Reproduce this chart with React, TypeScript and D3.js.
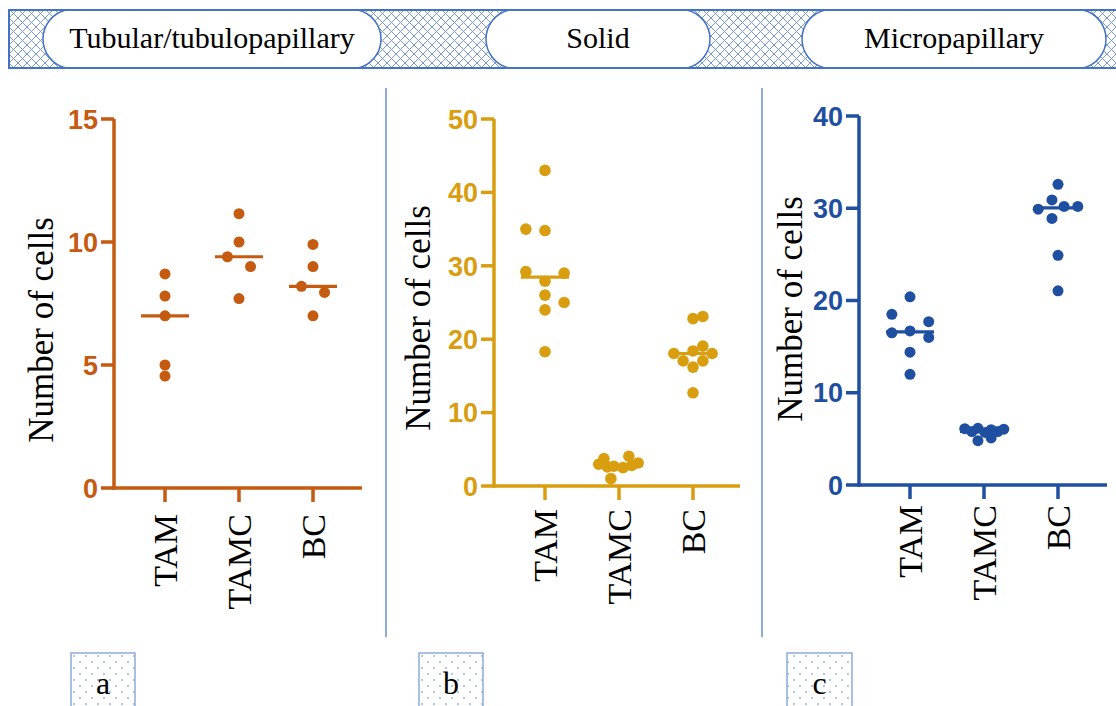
import React from "react";
import * as d3 from "d3";

// ---------- data ----------
const categories = ["TAM", "TAMC", "BC"];
const panelTitles = ["Tubular/tubulopapillary", "Solid", "Micropapillary"];
const panelLetters = ["a", "b", "c"];
const yAxisTitle = "Number of cells";

const tubularTicks = [0, 5, 10, 15];
const solidTicks = [0, 10, 20, 30, 40, 50];
const microTicks = [0, 10, 20, 30, 40];

// values (Number of cells) per group
const tubularTAM = [8.7, 7.8, 7.0, 5.0, 4.55];
const tubularTAMC = [11.15, 10.0, 9.4, 9.0, 7.7];
const tubularBC = [9.9, 9.0, 8.2, 7.95, 7.0];

const solidTAM = [43, 35.0, 34.8, 29.2, 29.0, 27.9, 26.0, 25.0, 24.0, 18.3];
const solidTAMC = [3.74, 4.05, 2.96, 2.7, 2.5, 2.8, 3.14, 1.0, 2.6];
const solidBC = [22.8, 23.1, 18.05, 18.4, 19.06, 18.05, 17.05, 16.2, 17.05, 12.7];

const microTAM = [20.4, 18.5, 17.7, 16.5, 16.7, 16.0, 14.4, 12.0];
const microTAMC = [6.1, 6.15, 6.0, 6.05, 5.8, 5.7, 5.8, 4.8, 5.1];
const microBC = [32.6, 30.9, 29.9, 30.2, 30.2, 28.9, 24.9, 21.05];

// scatter-column spread of each dot (in dot diameters)
const tubularTAMSpread = [0, 0, 0, 0, 0];
const tubularTAMCSpread = [0, 0, -1.05, 1.05, 0];
const tubularBCSpread = [0, 0, -1.05, 1.05, 0];
const solidTAMSpread = [0, -1.65, 0, -1.65, 1.65, 0, 0, 1.65, 0, 0];
const solidTAMCSpread = [-1.3, 0.85, -1.75, -0.45, 0.35, 1.1, 1.65, -0.7, -1.0];
const solidBCSpread = [0, 0.85, -1.65, 0, 0.85, 1.65, -0.85, 0, 0.85, 0];
const microTAMSpread = [0, -1.65, 1.7, -1.65, 0, 1.7, 0, 0];
const microTAMCSpread = [-1.75, -0.55, 0.65, 1.8, -1.1, 0.1, 1.25, -0.55, 0.65];
const microBCSpread = [0, -0.55, -1.8, 0.55, 1.8, -0.55, 0, 0];

// ---------- layout ----------
const W = 1116;
const H = 706;
const serif = "'Liberation Serif', 'Times New Roman', Times, serif";
const sans = "'Liberation Sans', Arial, Helvetica, sans-serif";
const bannerBlue = "#4472C4";
const lightBlue = "#8FAADC";

const panels = [
  {
    title: panelTitles[0], letter: panelLetters[0], ticks: tubularTicks, max: 15,
    groups: [tubularTAM, tubularTAMC, tubularBC],
    spreads: [tubularTAMSpread, tubularTAMCSpread, tubularBCSpread],
    color: "#C55A11", ax: 114, axEnd: 362, y0: 488, y1: 119, r: 5.5,
    labelX: 53, labelY: 330, catTop: 514,
    pill: [43, 381], box: [71, 135],
  },
  {
    title: panelTitles[1], letter: panelLetters[1], ticks: solidTicks, max: 50,
    groups: [solidTAM, solidTAMC, solidBC],
    spreads: [solidTAMSpread, solidTAMCSpread, solidBCSpread],
    color: "#D89E10", ax: 494, axEnd: 740, y0: 486, y1: 119, r: 5.8,
    labelX: 430, labelY: 318, catTop: 509,
    pill: [486, 710], box: [419, 483],
  },
  {
    title: panelTitles[2], letter: panelLetters[2], ticks: microTicks, max: 40,
    groups: [microTAM, microTAMC, microBC],
    spreads: [microTAMSpread, microTAMCSpread, microBCSpread],
    color: "#1F4FA0", ax: 859, axEnd: 1107, y0: 485, y1: 116, r: 5.5,
    labelX: 802, labelY: 309, catTop: 505,
    pill: [802, 1106], box: [787, 852],
  },
];

const bannerTop = 10;
const bannerBottom = 68;

function pillPath(xL: number, xR: number, top: number, bottom: number) {
  const h = bottom - top;
  const s = 23;
  const rad = (s * s + (h / 2) * (h / 2)) / (2 * s);
  return `M${xL + s},${top} L${xR - s},${top} A${rad},${rad} 0 0 1 ${xR - s},${bottom} L${xL + s},${bottom} A${rad},${rad} 0 0 1 ${xL + s},${top} Z`;
}

function Panel({ p }: { p: typeof panels[number] }) {
  const y = d3.scaleLinear().domain([0, p.max]).range([p.y0, p.y1]);
  const x = d3.scalePoint<string>().domain(categories).range([p.ax + 51, p.ax + 199]);
  const c = p.color;
  const sw = 3.5;
  return (
    <g>
      {/* y axis */}
      <line x1={p.ax} x2={p.ax} y1={y(p.max)} y2={y(0) + sw / 2} stroke={c} strokeWidth={sw} />
      {p.ticks.map((t) => (
        <g key={t}>
          <line x1={p.ax - 13} x2={p.ax} y1={y(t)} y2={y(t)} stroke={c} strokeWidth={sw} />
          <text x={p.ax - 16} y={y(t)} dy="0.36em" textAnchor="end" fontFamily={sans}
            fontWeight="bold" fontSize={27} fill={c}>{t}</text>
        </g>
      ))}
      {/* x axis */}
      <line x1={p.ax - sw / 2} x2={p.axEnd} y1={y(0)} y2={y(0)} stroke={c} strokeWidth={sw} />
      {categories.map((cat) => (
        <g key={cat}>
          <line x1={x(cat)} x2={x(cat)} y1={y(0)} y2={y(0) + 14} stroke={c} strokeWidth={sw} />
          <text transform={`translate(${(x(cat) as number) + 12},${p.catTop}) rotate(-90)`}
            textAnchor="end" fontFamily={serif} fontSize={34} fill="#000">{cat}</text>
        </g>
      ))}
      {/* y title */}
      <text transform={`translate(${p.labelX},${p.labelY}) rotate(-90)`} textAnchor="middle"
        fontFamily={serif} fontSize={35} fill="#000">{yAxisTitle}</text>
      {/* dots and medians */}
      {p.groups.map((vals, gi) => {
        const cx = x(categories[gi]) as number;
        const med = d3.median(vals) as number;
        return (
          <g key={gi}>
            {vals.map((v, i) => (
              <circle key={i} cx={cx + p.spreads[gi][i] * 2 * p.r} cy={y(v)} r={p.r} fill={c} />
            ))}
            <line x1={cx - 24} x2={cx + 24} y1={y(med)} y2={y(med)} stroke={c} strokeWidth={3.2} />
          </g>
        );
      })}
    </g>
  );
}

export default function App() {
  return (
    <svg width={W} height={H} viewBox={`0 0 ${W} ${H}`}
      style={{ position: "absolute", left: 0, top: 0, background: "#fff" }}>
      <defs>
        <pattern id="hatch" width={9} height={9} patternUnits="userSpaceOnUse">
          <rect width={9} height={9} fill="#fff" />
          <path d="M0,0 L9,9 M9,0 L0,9" stroke="#7A98D6" strokeWidth={1} />
        </pattern>
        <pattern id="dots" width={12} height={12} patternUnits="userSpaceOnUse" x={71} y={653}>
          <rect width={12} height={12} fill="#fff" />
          <circle cx={3} cy={3} r={0.9} fill="#8FAADC" />
          <circle cx={9} cy={9} r={0.9} fill="#8FAADC" />
        </pattern>
        <clipPath id="bannerClip">
          <rect x={9} y={bannerTop} width={1120} height={bannerBottom - bannerTop} />
        </clipPath>
      </defs>
      <rect x={0} y={0} width={W} height={H} fill="#fff" />

      {/* banner */}
      <rect x={9} y={bannerTop} width={1120} height={bannerBottom - bannerTop} fill="url(#hatch)" />
      <g clipPath="url(#bannerClip)">
        {panels.map((p) => (
          <path key={p.title} d={pillPath(p.pill[0], p.pill[1], bannerTop, bannerBottom)}
            fill="#fff" stroke={bannerBlue} strokeWidth={1.5} />
        ))}
      </g>
      <rect x={9} y={bannerTop} width={1120} height={bannerBottom - bannerTop} fill="none"
        stroke={bannerBlue} strokeWidth={2} />
      {panels.map((p) => (
        <text key={p.title} x={(p.pill[0] + p.pill[1]) / 2} y={48} textAnchor="middle"
          fontFamily={serif} fontSize={30} fill="#000">{p.title}</text>
      ))}

      {/* dividers */}
      <line x1={386} x2={386} y1={88} y2={637} stroke={lightBlue} strokeWidth={2} />
      <line x1={762} x2={762} y1={88} y2={637} stroke={lightBlue} strokeWidth={2} />

      {panels.map((p) => <Panel key={p.title} p={p} />)}

      {/* panel letters */}
      {panels.map((p) => (
        <g key={p.letter}>
          <rect x={p.box[0]} y={653} width={p.box[1] - p.box[0]} height={60} fill="url(#dots)"
            stroke={lightBlue} strokeWidth={1.5} />
          <text x={(p.box[0] + p.box[1]) / 2} y={694} textAnchor="middle" fontFamily={serif}
            fontSize={32} fill="#000">{p.letter}</text>
        </g>
      ))}
    </svg>
  );
}
